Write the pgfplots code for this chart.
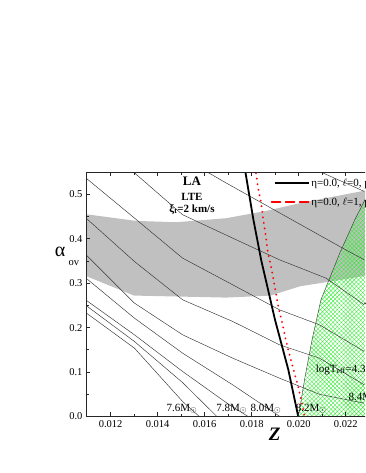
\documentclass[border=0pt]{standalone}
\usepackage{fontspec}
\setmainfont{Liberation Serif}
\usepackage{pgfplots}
\pgfplotsset{compat=1.18}
\usetikzlibrary{patterns.meta}
\definecolor{band}{RGB}{192,192,192}
\definecolor{hatch}{RGB}{60,235,60}
\begin{document}
\begin{tikzpicture}[x=1pt,y=1pt]
\useasboundingbox (0pt,0pt) rectangle (365pt,473pt);
\clip (0pt,0pt) rectangle (365pt,473pt);
\begin{axis}[
  at={(86pt,56.5pt)}, anchor=south west,
  scale only axis, width=377.2pt, height=244.5pt,
  xmin=0.01095, xmax=0.027, ymin=0, ymax=0.55,
  axis line style={line width=0.9pt, black!85},
  tick style={black!85, line width=0.7pt},
  tick align=inside,
  major tick length=4pt, minor tick length=2.5pt,
  xtick={0.012,0.014,...,0.026}, minor x tick num=1,
  ytick={0,0.1,...,0.5}, minor y tick num=1,
  xticklabel style={/pgf/number format/.cd,fixed,fixed zerofill,precision=3},
  yticklabel style={/pgf/number format/.cd,fixed,fixed zerofill,precision=1},
  /pgf/number format/assume math mode=true,
  scaled x ticks=false,
  tick label style={font=\fontsize{10.5}{12}\selectfont},
  xlabel={\fontsize{19}{19}\selectfont\bfseries\itshape Z},
  xlabel style={yshift=6pt},
  legend style={draw=none, fill=none, at={(axis cs:0.01868,0.545)}, anchor=north west,
    font=\fontsize{11}{12}\selectfont, row sep=6pt},
  legend cell align=left,
  clip=true,
  axis on top,
]
% grey band
\addplot[draw=none, fill=band, forget plot] coordinates {
 (0.01095,0.455) (0.01308,0.440) (0.01478,0.437) (0.01691,0.446) (0.01857,0.462) (0.02006,0.480) (0.0228,0.508) (0.0260,0.545) (0.0270,0.555)
 (0.0270,0.355) (0.0260,0.345) (0.0228,0.316) (0.0214,0.304) (0.02006,0.293) (0.0188,0.272) (0.01691,0.2675) (0.01300,0.272) (0.01095,0.316)
} -- cycle;
% green hatched region
\addplot[draw=black!80, line width=0.4pt, pattern={Hatch[angle=45,distance=3pt,line width=0.4pt]}, pattern color=hatch, forget plot] coordinates {
 (0.01999,0) (0.02027,0.089) (0.02057,0.173) (0.02095,0.263) (0.02176,0.369) (0.0224,0.444) (0.0227,0.475) (0.0235,0.56) (0.0270,0.56) (0.0270,0)
} -- cycle;
% thin lines
\pgfplotsset{thin line/.style={black!80, line width=0.45pt, forget plot}}
\addplot[thin line] coordinates {(0.01095,0.5364) (0.01301,0.4464) (0.01506,0.3563) (0.01719,0.2963) (0.01918,0.2401) (0.02088,0.2063) (0.02279,0.1463)};
\addplot[thin line] coordinates {(0.01095,0.4464) (0.01301,0.3488) (0.01506,0.2626) (0.01719,0.2138) (0.01918,0.1613) (0.02088,0.1313) (0.02279,0.0713)};
\addplot[thin line] coordinates {(0.01095,0.3638) (0.01301,0.2551) (0.01506,0.1838) (0.01719,0.1313) (0.01918,0.0863) (0.02088,0.0500) (0.02279,0.0300)};
\addplot[thin line] coordinates {(0.01095,0.3113) (0.01301,0.2213) (0.01506,0.1425) (0.01719,0.0713) (0.01920,0)};
\addplot[thin line] coordinates {(0.01095,0.2618) (0.01301,0.1838) (0.01506,0.1013) (0.01705,0.0263) (0.01785,0)};
\addplot[thin line] coordinates {(0.01095,0.2498) (0.01301,0.1688) (0.01506,0.0763) (0.01652,0)};
\addplot[thin line] coordinates {(0.01095,0.2333) (0.01301,0.1538) (0.01506,0.0338) (0.01577,0)};
\addplot[thin line] coordinates {(0.01294,0.5514) (0.01506,0.4539) (0.01719,0.4013) (0.01918,0.3526) (0.02116,0.3113) (0.02279,0.2513)};
\addplot[thin line] coordinates {(0.01606,0.5514) (0.01687,0.5266) (0.02197,0.3758) (0.02279,0.3526)};
\addplot[thin line] coordinates {(0.02088,0.5514) (0.02279,0.5064)};
% models
\addplot[black, line width=1.8pt,
  legend image code/.code={\draw[black, line width=1.8pt] (0pt,0pt) -- (34pt,0pt);}] coordinates {
 (0.01770,0.5600) (0.01807,0.4436) (0.01840,0.353) (0.01899,0.218) (0.01956,0.105) (0.01998,0.0)};
\addlegendentry{η=0.0, $\ell$=0, p=1.0}
\addplot[red, line width=2pt, dash pattern=on 0.1pt off 5.5pt, line cap=round,
  legend image code/.code={\draw[red, line width=1.4pt, dash pattern=on 9pt off 5pt] (-3pt,0pt) -- (34pt,0pt);}] coordinates {
 (0.01815,0.560) (0.01817,0.5526) (0.01828,0.5113) (0.01840,0.4813) (0.01849,0.4436) (0.01860,0.4059) (0.01868,0.372)
 (0.01885,0.3307) (0.01899,0.2894) (0.01913,0.2479) (0.01930,0.2104) (0.01945,0.1727) (0.01963,0.135)
 (0.01980,0.1011) (0.01998,0.0673) (0.02010,0.0372) (0.02020,0.0147) (0.02025,0)};
\addlegendentry{η=0.0, $\ell$=1, p=1.0}
% labels
\node[font=\fontsize{13}{13}\selectfont\bfseries] at (axis cs:0.01546,0.529) {LA};
\node[font=\fontsize{11}{11}\selectfont\bfseries] at (axis cs:0.01546,0.494) {LTE};
\node[font=\fontsize{11}{11}\selectfont\bfseries] at (axis cs:0.01546,0.466) {ξ\textsubscript{t}=2 km/s};
\node[font=\fontsize{11}{11}\selectfont, anchor=base west] at (axis cs:0.01423,0.012) {7.6M$_{\odot}$};
\node[font=\fontsize{11}{11}\selectfont, anchor=base west] at (axis cs:0.01635,0.012) {7.8M$_{\odot}$};
\node[font=\fontsize{11}{11}\selectfont, anchor=base west] at (axis cs:0.01780,0.012) {8.0M$_{\odot}$};
\node[font=\fontsize{11}{11}\selectfont, anchor=base west] at (axis cs:0.01973,0.012) {8.2M$_{\odot}$};
\node[font=\fontsize{11}{11}\selectfont, anchor=base west] at (axis cs:0.02197,0.035) {8.4M$_{\odot}$};
\node[font=\fontsize{11}{11}\selectfont, anchor=base west] at (axis cs:0.02058,0.100) {logT$_{\mathrm{eff}}$=4.32};
\node[font=\fontsize{12}{13}\selectfont\bfseries\itshape, anchor=base west] at (axis cs:0.02266,0.252) {J};
\end{axis}
\node[font=\fontsize{20}{20}\selectfont, anchor=base] at (60pt,216pt) {α};
\node[font=\fontsize{10.5}{11}\selectfont, anchor=base west] at (65pt,207pt) {ov};
\end{tikzpicture}
\end{document}
